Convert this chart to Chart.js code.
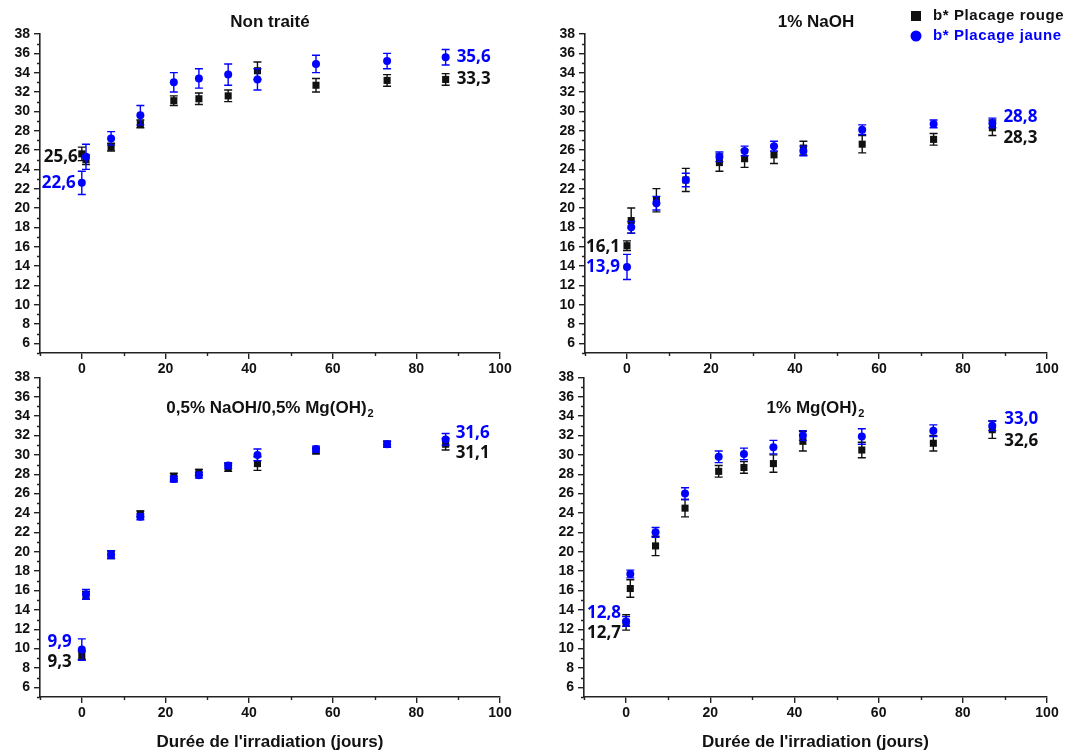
<!DOCTYPE html>
<html>
<head>
<meta charset="utf-8">
<script src="https://cdn.jsdelivr.net/npm/chart.js@4/dist/chart.umd.min.js"></script>
<style>
  body { margin: 0; background: #fff; }
  #wrap { position: relative; width: 1077px; height: 753px; overflow: hidden; }
  #wrap canvas { position: absolute; }
</style>
</head>
<body>
<div id="wrap">
  <canvas id="p1"></canvas>
  <canvas id="p2"></canvas>
  <canvas id="p3"></canvas>
  <canvas id="p4"></canvas>
</div>
<script>
// Durée d'irradiation (jours)
var jours = [0, 1, 7, 14, 22, 28, 35, 42, 56, 73, 87];

// Non traité
var ntRouge    = [25.6, 25.0, 26.3, 28.7, 31.1, 31.3, 31.6, 34.2, 32.7, 33.2, 33.3];
var ntRougeErr = [0.7, 0.5, 0.4, 0.4, 0.5, 0.6, 0.6, 0.9, 0.7, 0.6, 0.6];
var ntJaune    = [22.6, 25.3, 27.2, 29.6, 33.0, 33.4, 33.8, 33.3, 34.9, 35.2, 35.6];
var ntJauneErr = [1.2, 1.3, 0.7, 1.0, 1.0, 1.0, 1.1, 1.1, 0.9, 0.8, 0.8];

// 1% NaOH
var naRouge    = [16.1, 18.7, 20.8, 22.9, 24.7, 25.1, 25.5, 26.2, 26.6, 27.1, 28.3];
var naRougeErr = [0.5, 1.3, 1.2, 1.2, 0.9, 0.9, 0.9, 0.7, 0.9, 0.6, 0.8];
var naJaune    = [13.9, 18.0, 20.5, 22.9, 25.3, 25.9, 26.4, 25.9, 28.1, 28.7, 28.8];
var naJauneErr = [1.3, 0.6, 0.7, 0.7, 0.5, 0.5, 0.5, 0.5, 0.5, 0.4, 0.5];

// 0,5% NaOH / 0,5% Mg(OH)2
var mxRouge    = [9.3, 15.5, 19.7, 23.9, 27.7, 28.2, 28.7, 29.1, 30.4, 31.1, 31.1];
var mxRougeErr = [0.4, 0.4, 0.4, 0.3, 0.4, 0.3, 0.4, 0.7, 0.3, 0.3, 0.6];
var mxJaune    = [9.9, 15.6, 19.7, 23.6, 27.5, 27.9, 28.9, 30.0, 30.6, 31.1, 31.6];
var mxJauneErr = [1.1, 0.5, 0.4, 0.3, 0.3, 0.3, 0.3, 0.6, 0.3, 0.3, 0.6];

// 1% Mg(OH)2
var mgRouge    = [12.7, 16.2, 20.6, 24.5, 28.3, 28.7, 29.1, 31.4, 30.5, 31.2, 32.6];
var mgRougeErr = [0.8, 0.9, 1.0, 0.9, 0.6, 0.6, 0.9, 1.0, 0.8, 0.8, 0.9];
var mgJaune    = [12.8, 17.7, 22.0, 26.0, 29.8, 30.1, 30.8, 32.0, 31.9, 32.5, 33.0];
var mgJauneErr = [0.5, 0.4, 0.5, 0.6, 0.6, 0.6, 0.7, 0.5, 0.8, 0.6, 0.5];

var NOIR = '#111111';
var BLEU = '#0000ff';
var AXE = '#222222';
var POLICE = "'Liberation Sans', Arial, sans-serif";

function virgule(v) { return v.toFixed(1).replace('.', ','); }

function points(valeurs) {
  return jours.map(function (j, i) { return { x: j, y: valeurs[i] }; });
}

// barres d'erreur, dessinées sous les marqueurs
var erreurs = {
  id: 'erreurs',
  beforeDatasetDraw: function (chart, args) {
    var ds = chart.data.datasets[args.index];
    if (!ds.erreurs) return;
    var sy = chart.scales.y, ctx = chart.ctx;
    ctx.save();
    ctx.strokeStyle = ds.borderColor;
    ctx.lineWidth = 1.4;
    args.meta.data.forEach(function (pt, i) {
      var v = ds.data[i].y, e = ds.erreurs[i];
      var y1 = sy.getPixelForValue(v + e), y2 = sy.getPixelForValue(v - e);
      ctx.beginPath();
      ctx.moveTo(pt.x, y1); ctx.lineTo(pt.x, y2);
      ctx.moveTo(pt.x - 4, y1); ctx.lineTo(pt.x + 4, y1);
      ctx.moveTo(pt.x - 4, y2); ctx.lineTo(pt.x + 4, y2);
      ctx.stroke();
    });
    ctx.restore();
  }
};

// titre, petites graduations, valeurs extrêmes, légende
var panneau = {
  id: 'panneau',
  afterDraw: function (chart) {
    var o = chart.options.plugins.panneau;
    var ctx = chart.ctx, ca = chart.chartArea;
    var sx = chart.scales.x, sy = chart.scales.y;
    ctx.save();

    // petites graduations
    ctx.strokeStyle = AXE;
    ctx.lineWidth = 1.4;
    ctx.beginPath();
    sy.ticks.forEach(function (t) {
      if (t.value % 2 !== 0 || t.value < 6) {
        var y = Math.round(sy.getPixelForValue(t.value)) + 0.5;
        ctx.moveTo(ca.left - 3, y); ctx.lineTo(ca.left, y);
      }
    });
    sx.ticks.forEach(function (t) {
      if (t.value % 20 !== 0) {
        var x = Math.round(sx.getPixelForValue(t.value)) + 0.5;
        ctx.moveTo(x, ca.bottom); ctx.lineTo(x, ca.bottom + 3);
      }
    });
    ctx.stroke();

    // titre
    ctx.fillStyle = NOIR;
    ctx.textBaseline = 'middle';
    ctx.font = 'bold 17px ' + POLICE;
    var w1 = ctx.measureText(o.titre).width;
    ctx.font = 'bold 11px ' + POLICE;
    var w2 = o.sub ? ctx.measureText(o.sub).width + 1 : 0;
    var x0 = (ca.left + ca.right) / 2 - (w1 + w2) / 2;
    ctx.textAlign = 'left';
    ctx.font = 'bold 17px ' + POLICE;
    ctx.fillText(o.titre, x0, o.titreY);
    if (o.sub) {
      ctx.font = 'bold 11px ' + POLICE;
      ctx.fillText(o.sub, x0 + w1 + 1, o.titreY + 6);
    }

    // valeurs au début et à la fin
    ctx.font = "bold 17px 'Open Sans', sans-serif";
    chart.data.datasets.forEach(function (ds, k) {
      var d = ds.data, n = d.length - 1;
      var dec = o.decalages[k];
      ctx.fillStyle = ds.borderColor;
      ctx.textAlign = 'right';
      ctx.fillText(virgule(d[0].y), sx.getPixelForValue(d[0].x) + dec[0], sy.getPixelForValue(d[0].y) + dec[1]);
      ctx.textAlign = 'left';
      ctx.fillText(virgule(d[n].y), sx.getPixelForValue(d[n].x) + dec[2], sy.getPixelForValue(d[n].y) + dec[3]);
    });

    // légende
    if (o.legende) {
      ctx.font = 'bold 15px ' + POLICE;
      ctx.textAlign = 'left';
      if ('letterSpacing' in ctx) ctx.letterSpacing = '0.6px';
      ctx.fillStyle = NOIR;
      ctx.fillRect(o.legende.x - 5, o.legende.y - 5, 10, 10);
      ctx.fillText(chart.data.datasets[0].label, o.legende.x + 17, o.legende.y);
      ctx.fillStyle = BLEU;
      ctx.beginPath();
      ctx.arc(o.legende.x, o.legende.y + 20, 5.5, 0, Math.PI * 2);
      ctx.fill();
      ctx.fillText(chart.data.datasets[1].label, o.legende.x + 17, o.legende.y + 20);
    }
    ctx.restore();
  }
};

var panneaux = [
  { id: 'p1', titre: 'Non traité', sub: '', rouge: ntRouge, rougeErr: ntRougeErr, jaune: ntJaune, jauneErr: ntJauneErr,
    left: 0, top: 0, w: 540, h: 380, yW: 40, padTop: 34, padRight: 40, xH: 27, titreY: 22, axeTitre: false, legende: null,
    decalages: [[-4, 3, 11, 0], [-6, 0, 11, 0]] },
  { id: 'p2', titre: '1% NaOH', sub: '', rouge: naRouge, rougeErr: naRougeErr, jaune: naJaune, jauneErr: naJauneErr,
    left: 540, top: 0, w: 537, h: 380, yW: 45, padTop: 34, padRight: 30, xH: 27, titreY: 22, axeTitre: false,
    legende: { x: 376, y: 16 },
    decalages: [[-7, 1, 11, 10], [-7, 0, 11, -6]] },
  { id: 'p3', titre: '0,5% NaOH/0,5% Mg(OH)', sub: '2', rouge: mxRouge, rougeErr: mxRougeErr, jaune: mxJaune, jauneErr: mxJauneErr,
    left: 0, top: 365, w: 540, h: 388, yW: 40, padTop: 12, padRight: 40, xH: 56, titreY: 43, axeTitre: true, legende: null,
    decalages: [[-10, 7, 10, 9], [-10, -7, 10, -6]] },
  { id: 'p4', titre: '1% Mg(OH)', sub: '2', rouge: mgRouge, rougeErr: mgRougeErr, jaune: mgJaune, jauneErr: mgJauneErr,
    left: 540, top: 365, w: 537, h: 388, yW: 44, padTop: 12, padRight: 30, xH: 56, titreY: 43, axeTitre: true, legende: null,
    decalages: [[-5, 11, 12, 11], [-5, -8, 12, -7]] }
];

panneaux.forEach(function (p) {
  var cv = document.getElementById(p.id);
  cv.width = p.w; cv.height = p.h;
  cv.style.left = p.left + 'px'; cv.style.top = p.top + 'px';
  cv.style.width = p.w + 'px'; cv.style.height = p.h + 'px';

  new Chart(cv, {
    type: 'scatter',
    data: {
      datasets: [{
        label: 'b* Placage rouge',
        data: points(p.rouge),
        erreurs: p.rougeErr,
        pointStyle: 'rect',
        pointRadius: 5,
        backgroundColor: NOIR,
        borderColor: NOIR,
        borderWidth: 0,
        order: 2
      }, {
        label: 'b* Placage jaune',
        data: points(p.jaune),
        erreurs: p.jauneErr,
        pointStyle: 'circle',
        pointRadius: 4,
        backgroundColor: BLEU,
        borderColor: BLEU,
        borderWidth: 0,
        order: 1
      }]
    },
    options: {
      responsive: false,
      animation: false,
      devicePixelRatio: 1,
      clip: false,
      layout: { padding: { top: p.padTop, right: p.padRight, left: 0, bottom: 0 } },
      plugins: {
        legend: { display: false },
        tooltip: { enabled: false },
        panneau: { titre: p.titre, sub: p.sub, titreY: p.titreY, legende: p.legende, decalages: p.decalages }
      },
      scales: {
        x: {
          type: 'linear',
          min: -10, max: 100,
          afterFit: function (s) { s.height = p.xH; },
          ticks: {
            stepSize: 10, autoSkip: false, maxRotation: 0, padding: 2,
            color: NOIR,
            font: { family: POLICE, size: 14, weight: 'bold' },
            callback: function (v) { return (v >= 0 && v % 20 === 0) ? v : ''; }
          },
          grid: {
            drawOnChartArea: false, tickLength: 6, lineWidth: 1.4,
            tickColor: function (c) { return (c.tick && c.tick.value % 20 === 0) ? AXE : 'rgba(0,0,0,0)'; }
          },
          border: { color: AXE, width: 1.6 },
          title: {
            display: p.axeTitre,
            text: "Durée de l'irradiation (jours)",
            color: NOIR,
            font: { family: POLICE, size: 17, weight: 'bold' },
            padding: { top: 0, bottom: 0 }
          }
        },
        y: {
          min: 5, max: 38,
          afterFit: function (s) { s.width = p.yW; },
          ticks: {
            stepSize: 1, autoSkip: false, padding: 4,
            color: NOIR,
            font: { family: POLICE, size: 14, weight: 'bold' },
            callback: function (v) { return (v % 2 === 0 && v >= 6) ? v : ''; }
          },
          grid: {
            drawOnChartArea: false, tickLength: 6, lineWidth: 1.4,
            tickColor: function (c) { return (c.tick && c.tick.value % 2 === 0 && c.tick.value >= 6) ? AXE : 'rgba(0,0,0,0)'; }
          },
          border: { color: AXE, width: 1.6 }
        }
      }
    },
    plugins: [erreurs, panneau]
  });
});
</script>
</body>
</html>
